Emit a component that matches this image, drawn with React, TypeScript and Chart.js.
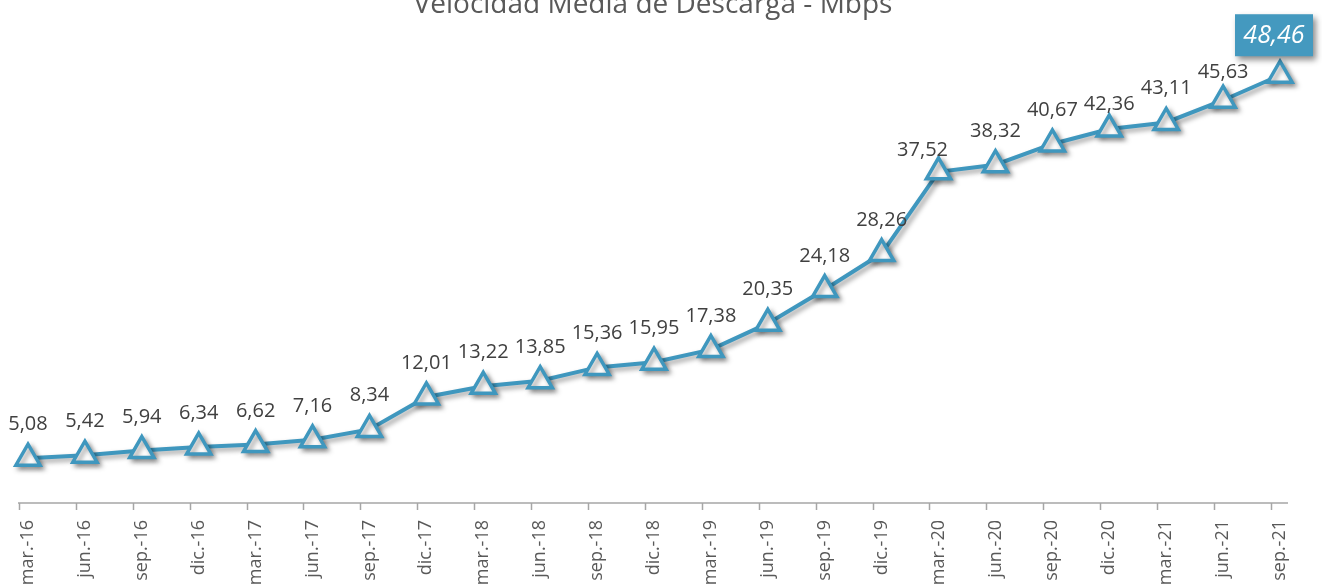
import React, { useEffect, useRef } from "react";
import { Chart, registerables } from "chart.js";

Chart.register(...registerables);

const categories = [
  "mar.-16", "jun.-16", "sep.-16", "dic.-16",
  "mar.-17", "jun.-17", "sep.-17", "dic.-17",
  "mar.-18", "jun.-18", "sep.-18", "dic.-18",
  "mar.-19", "jun.-19", "sep.-19", "dic.-19",
  "mar.-20", "jun.-20", "sep.-20", "dic.-20",
  "mar.-21", "jun.-21", "sep.-21",
];
const downloadSpeed = [
  5.08, 5.42, 5.94, 6.34,
  6.62, 7.16, 8.34, 12.01,
  13.22, 13.85, 15.36, 15.95,
  17.38, 20.35, 24.18, 28.26,
  37.52, 38.32, 40.67, 42.36,
  43.11, 45.63, 48.46,
];
const chartTitle = "Velocidad Media de Descarga - Mbps";

const LINE_COLOR = "#3F97BE";
const BOX_COLOR = "#4499BF";
const FONT = "'Open Sans', 'DejaVu Sans', sans-serif";

const fmt = (v: number) => v.toFixed(2).replace(".", ",");

// manual nudges of individual data labels (as in the source chart)
const labelNudge: Record<number, { dx: number; dy: number }> = {
  16: { dx: -16, dy: 12 },
  19: { dx: 0, dy: 9 },
  21: { dx: 0, dy: 6 },
};

const shadowPlugin = {
  id: "seriesShadow",
  beforeDatasetsDraw(chart: any) {
    const ctx = chart.ctx;
    ctx.save();
    ctx.shadowColor = "rgba(0,0,0,0.38)";
    ctx.shadowBlur = 5;
    ctx.shadowOffsetX = 3;
    ctx.shadowOffsetY = 3;
  },
  afterDatasetsDraw(chart: any) {
    chart.ctx.restore();
  },
};

const axisPlugin = {
  id: "excelAxis",
  beforeDatasetsDraw(chart: any) {
    const ctx = chart.ctx;
    const xs = chart.scales.x;
    const { left, right, bottom } = chart.chartArea;
    const n = categories.length;
    const step = (right - left) / (n - 1);
    ctx.save();
    ctx.strokeStyle = "#A6A6A6";
    ctx.lineWidth = 1.5;
    ctx.beginPath();
    ctx.moveTo(left - 10, bottom);
    ctx.lineTo(right + 8, bottom);
    for (let i = 0; i < n; i++) {
      const px = Math.round(xs.getPixelForValue(i) - step * 0.16) + 0.5;
      ctx.moveTo(px, bottom);
      ctx.lineTo(px, bottom + 7);
    }
    ctx.stroke();
    ctx.restore();
  },
};

const labelPlugin = {
  id: "valueLabels",
  afterDraw(chart: any) {
    const ctx = chart.ctx;
    const meta = chart.getDatasetMeta(0);
    const last = meta.data.length - 1;
    ctx.save();
    meta.data.forEach((pt: any, i: number) => {
      const txt = fmt(downloadSpeed[i]);
      if (i === last) {
        const bx = pt.x - 6;
        const by = pt.y - 40;
        const w = 78;
        const h = 42;
        ctx.save();
        ctx.shadowColor = "rgba(0,0,0,0.45)";
        ctx.shadowBlur = 6;
        ctx.shadowOffsetX = 3;
        ctx.shadowOffsetY = 4;
        ctx.fillStyle = BOX_COLOR;
        ctx.fillRect(bx - w / 2, by - h / 2, w, h);
        ctx.restore();
        ctx.fillStyle = "#FFFFFF";
        ctx.font = `italic 25px ${FONT}`;
        ctx.textAlign = "center";
        ctx.textBaseline = "middle";
        ctx.fillText(txt, bx, by + 1);
        return;
      }
      const nd = labelNudge[i] || { dx: 0, dy: 0 };
      ctx.fillStyle = "#404040";
      ctx.font = `20px ${FONT}`;
      ctx.textAlign = "center";
      ctx.textBaseline = "alphabetic";
      ctx.fillText(txt, pt.x + nd.dx, pt.y - 28 + nd.dy);
    });
    // title (partly cut off at the top, as in the source)
    ctx.fillStyle = "#595959";
    ctx.font = `28px ${FONT}`;
    ctx.textAlign = "center";
    ctx.textBaseline = "alphabetic";
    ctx.fillText(chartTitle, 653, 13);
    ctx.restore();
  },
};

export default function App() {
  const canvasRef = useRef<HTMLCanvasElement | null>(null);

  useEffect(() => {
    if (!canvasRef.current) return;
    const chart = new Chart(canvasRef.current, {
      type: "line",
      data: {
        labels: categories,
        datasets: [
          {
            label: chartTitle,
            data: downloadSpeed,
            borderColor: LINE_COLOR,
            borderWidth: 4,
            pointStyle: "triangle",
            pointRadius: 14,
            pointBorderWidth: 3.5,
            pointBackgroundColor: "#FFFFFF",
            pointBorderColor: LINE_COLOR,
            tension: 0,
            clip: false as any,
          },
        ],
      },
      options: {
        responsive: false,
        animation: false,
        devicePixelRatio: 1,
        layout: { padding: { top: 7, left: 28, right: 42, bottom: 0 } },
        plugins: {
          legend: { display: false },
          title: { display: false },
          tooltip: { enabled: false },
        },
        scales: {
          x: {
            type: "category",
            offset: false,
            grid: { display: false },
            border: { display: false },
            ticks: {
              autoSkip: false,
              minRotation: 90,
              maxRotation: 90,
              padding: 9,
              color: "#595959",
              font: { family: FONT, size: 18 },
            },
            afterFit: (scale: any) => {
              scale.height = 82;
            },
          },
          y: {
            display: false,
            min: 0,
            max: 55,
          },
        },
      },
      plugins: [axisPlugin, shadowPlugin, labelPlugin],
    });
    return () => chart.destroy();
  }, []);

  return (
    <div style={{ position: "absolute", left: 0, top: 0, width: 1322, height: 585, background: "#FFFFFF" }}>
      <canvas ref={canvasRef} width={1322} height={585} style={{ width: 1322, height: 585, display: "block" }} />
    </div>
  );
}
